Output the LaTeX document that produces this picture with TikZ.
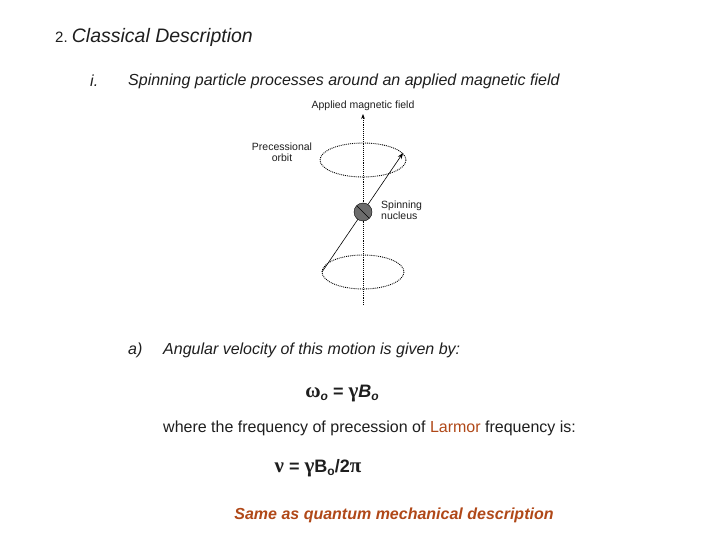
\documentclass[tikz,border=0pt]{standalone}
\usepackage{fontspec}
\setmainfont{Liberation Sans}
\newfontfamily\grk{Liberation Serif}
\usetikzlibrary{arrows.meta}
\definecolor{brn}{RGB}{176,72,24}
\definecolor{txt}{RGB}{30,30,30}
\begin{document}
\begin{tikzpicture}[x=1pt,y=-1pt,
  body/.style={anchor=west,font=\fontsize{16}{19}\selectfont\itshape,text=txt,inner sep=0},
  small/.style={font=\fontsize{10.5}{11.5}\selectfont,text=txt,inner sep=0,align=center},
  dot/.style={densely dotted,line width=0.9pt}]
\useasboundingbox (0,0) rectangle (720,540);
\node[anchor=west,inner sep=0,text=txt] (n2) at (55,37) {\fontsize{15}{16}\selectfont 2.\ \fontsize{19.5}{21}\selectfont\itshape Classical Description};
\node[body] (ni) at (90,81) {i.};
\node[body] (t1) at (128,81) {Spinning particle processes around an applied magnetic field};
% diagram
\coordinate (axb) at (363,305);
\coordinate (axt) at (363,114);
\draw[dot,-{Stealth[length=5pt]}] (axb) -- (axt);
\draw[dot] (363,160) ellipse [x radius=43, y radius=17];
\draw[dot] (363,272) ellipse [x radius=41, y radius=17];
\coordinate (s0) at (322,272);
\coordinate (s1) at (403,153);
\draw[line width=0.6pt,-{Stealth[length=6pt]}] (s0) -- (s1);
\node[circle,draw,fill=gray!85!black,minimum size=18pt,inner sep=0] (nuc) at (363,212) {};
\draw (357,206) -- (369,218);
\node[small] (lab1) at (363,106) {Applied magnetic field};
\node[small] (lab2) at (282,152) {Precessional\\orbit};
\node[small,align=left,anchor=west] (lab3) at (381,210) {Spinning\\nucleus};
% text
\node[body] (na) at (128,350) {a)};
\node[body] (t2) at (163,350) {Angular velocity of this motion is given by:};
\node[inner sep=0,text=txt,font=\fontsize{18}{20}\selectfont\bfseries] (f1) at (342,394) {{\grk\fontsize{21}{22}\selectfont ω}\raisebox{-0.3ex}{\fontsize{12}{12}\selectfont\itshape o} = {\grk\fontsize{21}{22}\selectfont γ}\textit{B}\raisebox{-0.3ex}{\fontsize{12}{12}\selectfont\itshape o}};
\node[anchor=west,inner sep=0,text=txt,font=\fontsize{16}{19}\selectfont] (t3) at (163,428) {where the frequency of precession of \textcolor{brn}{Larmor} frequency is:};
\node[inner sep=0,text=txt,font=\fontsize{18}{20}\selectfont\bfseries] (f2) at (318,468) {{\grk\fontsize{21}{22}\selectfont ν} = {\grk\fontsize{21}{22}\selectfont γ}B\raisebox{-0.3ex}{\fontsize{12}{12}\selectfont o}/2{\grk\fontsize{21}{22}\selectfont π}};
\node[inner sep=0,text=brn,font=\fontsize{16}{19}\selectfont\bfseries\itshape] (t4) at (394,515) {Same as quantum mechanical description};
\end{tikzpicture}
\end{document}
